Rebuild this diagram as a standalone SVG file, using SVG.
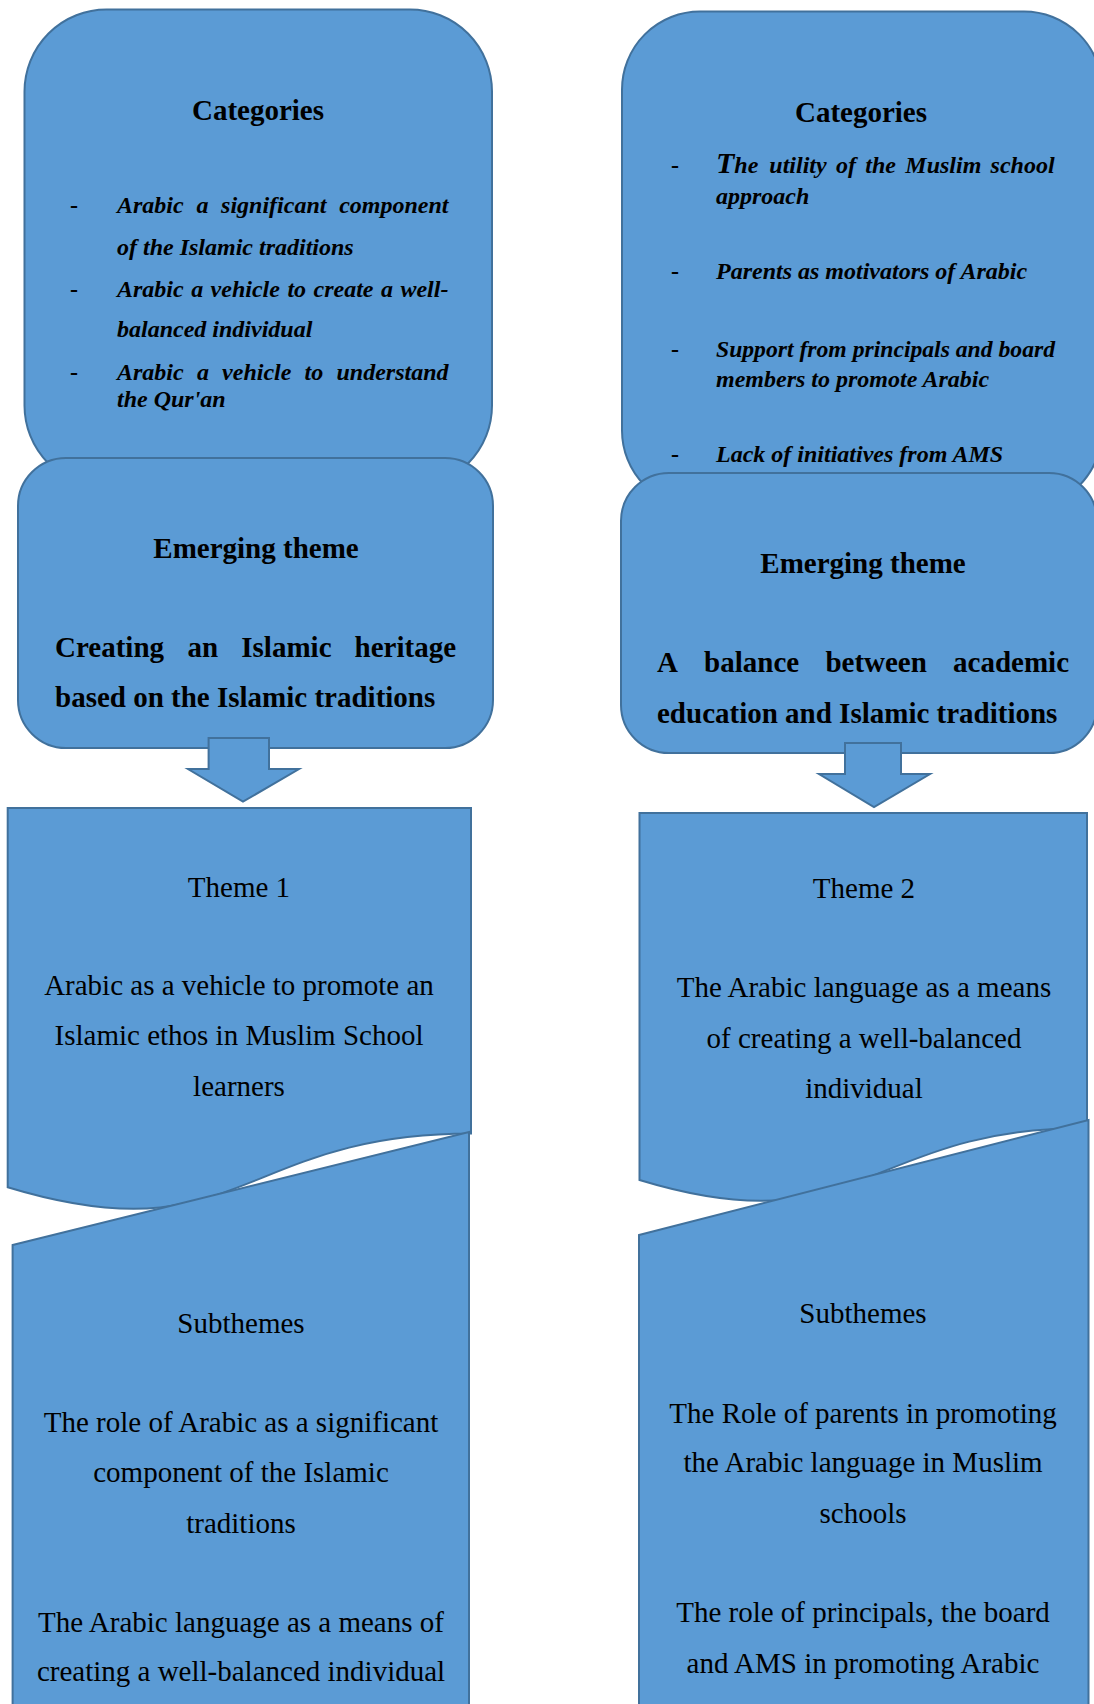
<svg xmlns="http://www.w3.org/2000/svg" width="1094" height="1704" viewBox="0 0 1094 1704">
<style>
.shape{fill:#5B9BD5;stroke:#41719C;stroke-width:2}
text{font-family:"Liberation Serif","Times New Roman",serif;fill:#000}
.t{font-size:29px;font-weight:bold}
.b{font-size:24px;font-weight:bold;font-style:italic}
.d{font-size:24px;font-weight:bold}
.r{font-size:29px}
.c{text-anchor:middle}
</style>
<rect width="1094" height="1704" fill="#fff"/>

<g id="categories-left">
<rect class="shape" x="24.5" y="9.5" width="467.5" height="478" rx="82"/>
<text class="t c" x="258" y="120">Categories</text>
<text class="d" x="70" y="213">-</text>
<text class="b" y="213"><tspan x="117">Arabic</tspan><tspan x="196.4">a</tspan><tspan x="221.1">significant</tspan><tspan x="339.2">component</tspan></text>
<text class="b" x="117" y="255">of the Islamic traditions</text>
<text class="d" x="70" y="297">-</text>
<text class="b" y="297"><tspan x="117">Arabic</tspan><tspan x="191.2">a</tspan><tspan x="210.6">vehicle</tspan><tspan x="287.4">to</tspan><tspan x="313.5">create</tspan><tspan x="381">a</tspan><tspan x="400.4">well-</tspan></text>
<text class="b" x="117" y="337">balanced individual</text>
<text class="d" x="70" y="380">-</text>
<text class="b" y="380"><tspan x="117">Arabic</tspan><tspan x="196.9">a</tspan><tspan x="222.1">vehicle</tspan><tspan x="304.6">to</tspan><tspan x="336.5">understand</tspan></text>
<text class="b" x="117" y="407">the Qur'an</text>
</g>

<g id="categories-right">
<rect class="shape" x="622" y="11.5" width="480" height="497" rx="78"/>
<text class="t c" x="861" y="122">Categories</text>
<text class="d" x="671" y="173">-</text>
<text class="b" y="173"><tspan x="716" style="font-size:30px">T</tspan><tspan>he</tspan><tspan x="769.3">utility</tspan><tspan x="836">of</tspan><tspan x="865.3">the</tspan><tspan x="905.3">Muslim</tspan><tspan x="990.6">school</tspan></text>
<text class="b" x="716" y="204">approach</text>
<text class="d" x="671" y="279">-</text>
<text class="b" x="716" y="279">Parents as motivators of Arabic</text>
<text class="d" x="671" y="357">-</text>
<text class="b" x="716" y="357" textLength="339" lengthAdjust="spacingAndGlyphs">Support from principals and board</text>
<text class="b" x="716" y="387">members to promote Arabic</text>
<text class="d" x="671" y="462">-</text>
<text class="b" x="716" y="462">Lack of initiatives from AMS</text>
</g>

<g id="emerging-left">
<rect class="shape" x="18" y="458" width="475" height="290" rx="48"/>
<text class="t c" x="256" y="558">Emerging theme</text>
<text class="t" y="657"><tspan x="55">Creating</tspan><tspan x="187.6">an</tspan><tspan x="241.3">Islamic</tspan><tspan x="354.6">heritage</tspan></text>
<text class="t" x="55" y="707">based on the Islamic traditions</text>
</g>

<g id="emerging-right">
<rect class="shape" x="621" y="473" width="476" height="280" rx="48"/>
<text class="t c" x="863" y="573">Emerging theme</text>
<text class="t" y="672"><tspan x="657">A</tspan><tspan x="704.1">balance</tspan><tspan x="825.4">between</tspan><tspan x="953.1">academic</tspan></text>
<text class="t" x="657" y="723">education and Islamic traditions</text>
</g>

<g id="connectors">
<path class="shape" d="M208.6,738 H269 V769 H299 L243,801.7 L188,769 H208.6 Z"/>
<path class="shape" d="M845,743 H901 V774 H930 L874,807 L819,774 H845 Z"/>
</g>

<g id="theme-1">
<path class="shape" d="M7.7,808 H471 V1133.6 C239.4,1133.6 239.4,1257.6 7.7,1187.2 Z"/>
<text class="r c" x="239" y="897">Theme 1</text>
<text class="r c" x="239" y="995">Arabic as a vehicle to promote an</text>
<text class="r c" x="239" y="1045">Islamic ethos in Muslim School</text>
<text class="r c" x="239" y="1096">learners</text>
</g>

<g id="theme-2">
<path class="shape" d="M639.5,813 H1087 V1128 C863.25,1128 863.25,1248 639.5,1180 Z"/>
<text class="r c" x="864" y="898">Theme 2</text>
<text class="r c" x="864" y="997">The Arabic language as a means</text>
<text class="r c" x="864" y="1048">of creating a well-balanced</text>
<text class="r c" x="864" y="1098">individual</text>
</g>

<g id="subthemes-1">
<path class="shape" d="M12.6,1245 L469,1132 V1712 H12.6 Z"/>
<text class="r c" x="241" y="1333">Subthemes</text>
<text class="r c" x="241" y="1432">The role of Arabic as a significant</text>
<text class="r c" x="241" y="1482">component of the Islamic</text>
<text class="r c" x="241" y="1533">traditions</text>
<text class="r c" x="241" y="1632">The Arabic language as a means of</text>
<text class="r c" x="241" y="1681">creating a well-balanced individual</text>
</g>

<g id="subthemes-2">
<path class="shape" d="M639,1235 L1088.5,1120 V1712 H639 Z"/>
<text class="r c" x="863" y="1323">Subthemes</text>
<text class="r c" x="863" y="1423">The Role of parents in promoting</text>
<text class="r c" x="863" y="1472">the Arabic language in Muslim</text>
<text class="r c" x="863" y="1523">schools</text>
<text class="r c" x="863" y="1622">The role of principals, the board</text>
<text class="r c" x="863" y="1673">and AMS in promoting Arabic</text>
</g>
</svg>
